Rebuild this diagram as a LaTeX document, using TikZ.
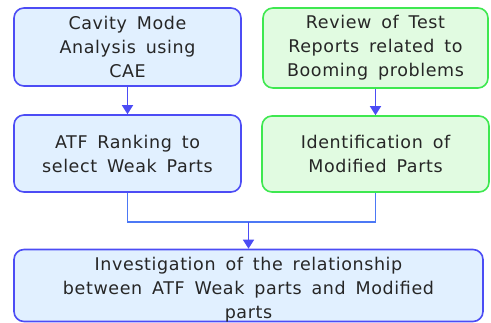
\documentclass[tikz,border=0pt]{standalone}
\usepackage{fontspec}
\setmainfont{DejaVu Sans}[WordSpace=1.6,LetterSpace=3.5]
\usetikzlibrary{arrows.meta}
\definecolor{boxblue}{HTML}{E1F0FF}
\definecolor{lineblue}{HTML}{4C4CF5}
\definecolor{boxgreen}{HTML}{E1FBE1}
\definecolor{linegreen}{HTML}{3EE850}
\definecolor{joinblue}{HTML}{4C78F5}
\begin{document}
\begin{tikzpicture}
  [x=1pt,y=1pt,every node/.style={rectangle,rounded corners=10pt,line width=1.6pt,align=center,
    text=black!85,font=\fontsize{17.5}{24}\selectfont}]
  \tikzstyle{bluebox} = [draw=lineblue,fill=boxblue]
  \tikzstyle{greenbox} = [draw=linegreen,fill=boxgreen]
  \tikzstyle{arr} = [draw=lineblue,line width=1.6pt,-{Triangle[width=11pt,length=9pt]}]
  \useasboundingbox (0,0) rectangle (491,322);

  \node[bluebox,minimum width=227pt,minimum height=78pt] (cae) at (127.5,275)
    {Cavity Mode\\Analysis using\\CAE};
  \node[greenbox,minimum width=225pt,minimum height=80pt] (review) at (375.5,274)
    {Review of Test\\Reports related to\\Booming problems};
  \node[bluebox,minimum width=227pt,minimum height=77pt] (atf) at (127.5,168.5)
    {ATF Ranking to\\select Weak Parts};
  \node[greenbox,minimum width=227pt,minimum height=76pt] (ident) at (375.5,168)
    {Identification of\\Modified Parts};
  \node[bluebox,inner ysep=0pt,minimum width=469pt,minimum height=71pt] (invest) at (248.5,36.5)
    {\raisebox{-4pt}[\height][\depth]{\begin{tabular}{@{}c@{}}Investigation of the relationship\\
      between ATF Weak parts and Modified\\parts\end{tabular}}};
  \coordinate (join) at (248.5,100);

  \foreach \source /\dest in {cae/atf,review/ident}
    \draw[arr] (\source) -- (\dest);

  \draw[joinblue,line width=1.6pt] (atf) |- (join) -| (ident);
  \draw[arr] (join) -- (invest);
\end{tikzpicture}
\end{document}
